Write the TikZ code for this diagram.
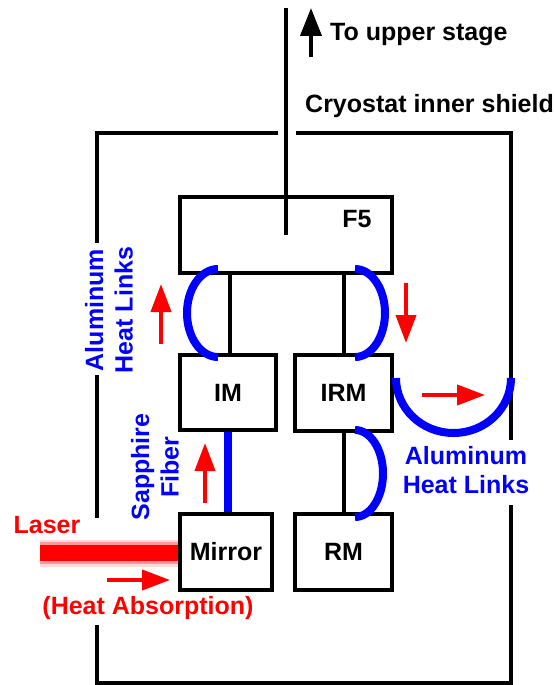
\documentclass[tikz,border=0pt]{standalone}
\usepackage{fontspec}
\setmainfont{Liberation Sans}
\usetikzlibrary{arrows.meta}
\begin{document}
\begin{tikzpicture}[x=1pt,y=-1pt,
  lbl/.style={font=\fontsize{25}{29.5}\selectfont\bfseries, inner sep=0pt},
  boxn/.style={draw, line width=4pt, inner sep=0pt, lbl},
  shield/.style={line width=4pt},
  conn/.style={line width=4pt},
  link/.style={draw=blue, line width=8pt},
  redarrow/.style={draw=red, line width=4pt, -{Triangle[width=20pt,length=28pt]}},
  blackarrow/.style={draw=black, line width=4pt, -{Triangle[width=21pt,length=28pt]}},
  redtxt/.style={lbl, text=red},
  bluetxt/.style={lbl, text=blue, align=center}]
\useasboundingbox (0,0) rectangle (556,685);

% boxes
\node[boxn, minimum width=212pt, minimum height=76pt] (F5) at (286,235) {};
\node[lbl] (F5t) at (357,219) {F5};
\node[boxn, minimum width=96pt, minimum height=75pt] (IM) at (228,392.5) {IM};
\node[boxn, minimum width=97pt, minimum height=76pt] (IRM) at (343.5,393) {IRM};
\node[boxn, minimum width=92pt, minimum height=76pt] (Mirror) at (226,552) {Mirror};
\node[boxn, minimum width=97pt, minimum height=76pt] (RM) at (343.5,552) {RM};

% rod to upper stage
\coordinate (rodtop) at (286,8);
\draw[conn] (rodtop) -- (F5.center);

% shield
\draw[shield] (97,243) -- (97,133) -- (278,133);
\draw[shield] (296,133) -- (511,133) -- (511,440);
\draw[shield] (511,505) -- (511,683) -- (97,683) -- (97,625);
\draw[shield] (97,375) -- (97,518);

% connectors
\draw[conn] ([xshift=2pt]IM.north) -- ([xshift=2pt]IM.north |- F5.south);
\draw[conn] (IRM.north) -- (IRM.north |- F5.south);
\draw[conn] (RM.north) -- (IRM.south);
\draw[link] (Mirror.north -| IM.south) -- (IM.south);

% aluminum links (blue arcs)
\coordinate (a1) at (218,269);
\draw[link] (a1) arc[start angle=90, end angle=270, x radius=31pt, y radius=44pt];
\coordinate (a2) at (355,269);
\draw[link] (a2) arc[start angle=90, end angle=-90, x radius=30pt, y radius=44pt];
\coordinate (a3) at (355,430);
\draw[link] (a3) arc[start angle=90, end angle=-90, x radius=28pt, y radius=43.5pt];
\coordinate (a4) at (396,378);
\draw[link] (a4) arc[start angle=180, end angle=360, x radius=57.5pt, y radius=55pt];

% laser beam
\coordinate (lz) at (40,553);
\draw[line width=27pt, red!15] (lz) -- (lz -| Mirror.west);
\draw[line width=22pt, red!40] (lz) -- (lz -| Mirror.west);
\draw[line width=16pt, red] (lz) -- (lz -| Mirror.west);

% arrows
\coordinate (u1) at (311,57); \coordinate (u2) at (311,8);
\draw[blackarrow] (u1) -- (u2);
\coordinate (r1s) at (161,344); \coordinate (r1e) at (161,284);
\draw[redarrow] (r1s) -- (r1e);
\coordinate (r2s) at (406,283); \coordinate (r2e) at (406,343);
\draw[redarrow] (r2s) -- (r2e);
\coordinate (r3s) at (422,395); \coordinate (r3e) at (485,395);
\draw[redarrow] (r3s) -- (r3e);
\coordinate (r4s) at (205,503); \coordinate (r4e) at (205,443);
\draw[redarrow] (r4s) -- (r4e);
\coordinate (r5s) at (107,580); \coordinate (r5e) at (Mirror.west |- r5s);
\draw[redarrow] (r5s) -- ([xshift=-8pt]r5e);

% texts
\node[lbl, anchor=west] (tup) at (330,35) {To upper stage};
\node[lbl, anchor=west] (cis) at (305,106) {Cryostat inner shield};
\node[bluetxt, rotate=90] (alL) at (109,310) {Aluminum\\Heat Links};
\node[bluetxt, rotate=90] (sf) at (155,467) {Sapphire\\Fiber};
\node[bluetxt] (alR) at (466,470) {Aluminum\\Heat Links};
\node[redtxt] (las) at (47,525) {Laser};
\node[redtxt] (ha) at (148,608) {(Heat Absorption)};
\end{tikzpicture}
\end{document}
